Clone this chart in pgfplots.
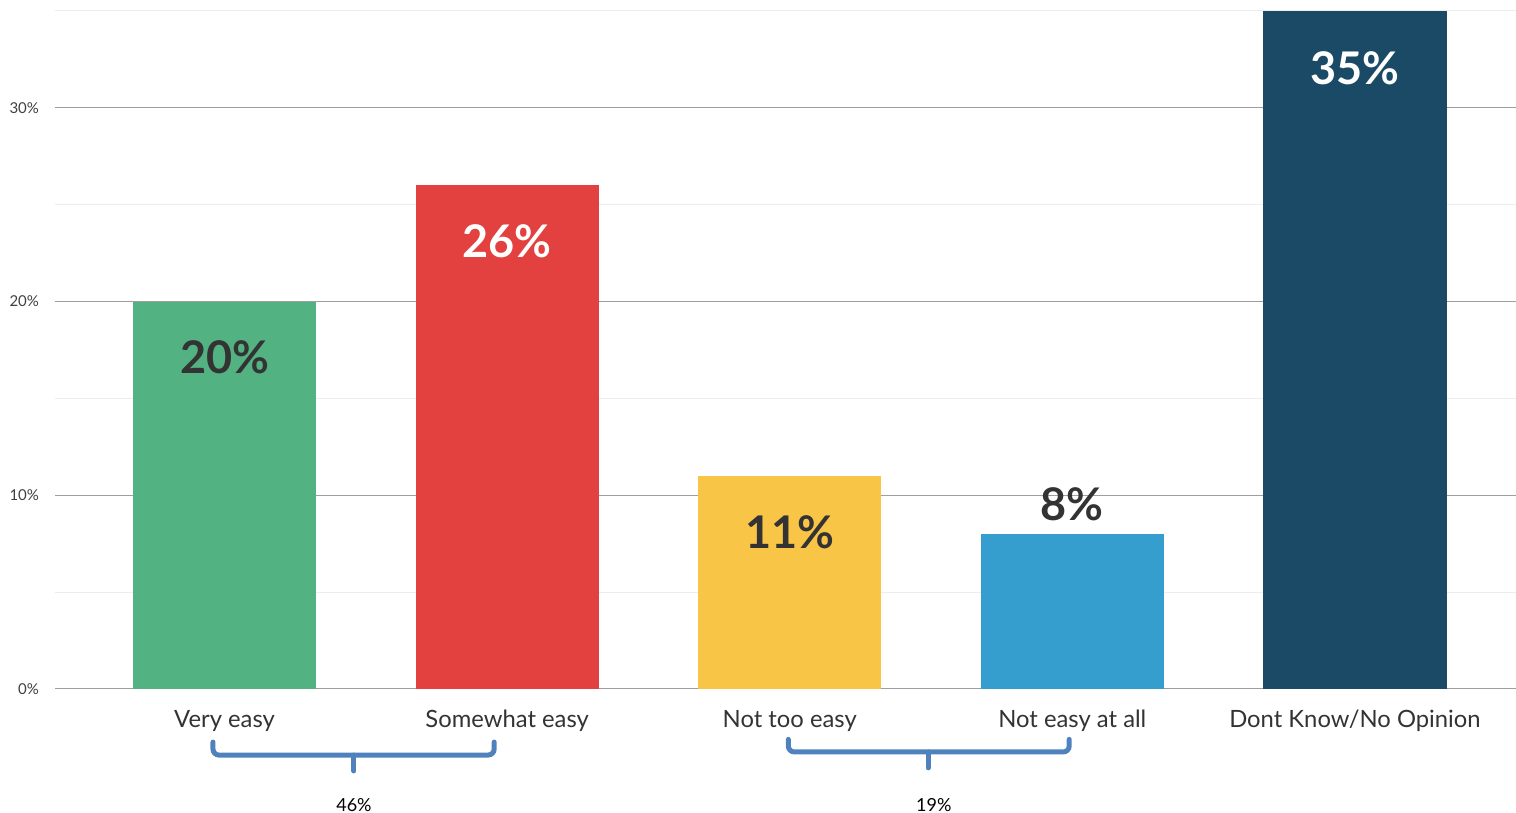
\documentclass[border=0pt]{standalone}
\usepackage{fontspec}
\setmainfont{Lato}
\usepackage{pgfplots}
\pgfplotsset{compat=1.18}
\definecolor{cgreen}{HTML}{52B281}
\definecolor{cred}{HTML}{E34040}
\definecolor{cyellow}{HTML}{F8C547}
\definecolor{cblue}{HTML}{359ECF}
\definecolor{cnavy}{HTML}{1B4A67}
\definecolor{cbrace}{HTML}{4F81BD}
\definecolor{ctext}{HTML}{333333}
\begin{document}
\begin{tikzpicture}
\path[use as bounding box] (-27.5pt,-62pt) rectangle (730.5pt,344.5pt);
\begin{axis}[
  at={(0,0)}, anchor=south west,
  scale only axis, width=730.5pt, height=339pt,
  xmin=-0.6, xmax=4.57, ymin=0, ymax=35,
  clip=false,
  axis line style={draw=none},
  tick style={draw=none},
  ytick={0,10,20,30},
  minor ytick={5,15,25,35},
  ymajorgrids, yminorgrids,
  major grid style={draw=black!38, line width=0.5pt},
  minor grid style={draw=black!7, line width=0.5pt},
  /pgf/number format/assume math mode=true,
  yticklabel={\pgfmathprintnumber{\tick}\%},
  yticklabel style={font=\fontsize{7.5}{9}\selectfont, text=black!75, xshift=-4.5pt},
  xtick={0,1,2,3,4},
  xticklabels={Very easy, Somewhat easy, Not too easy, Not easy at all, Dont Know/No Opinion},
  xticklabel style={font=\fontsize{11.9}{14}\selectfont, text=ctext, yshift=-7pt},
  every node near coord/.append style={font=\fontsize{22.5}{26}\selectfont\bfseries, anchor=center},
]
\addplot[ybar, bar width=0.648, bar shift=0pt, fill=cgreen, draw=none,
  nodes near coords={20\%}, every node near coord/.append style={text=ctext, yshift=-28pt}] coordinates {(0,20)};
\addplot[ybar, bar width=0.648, bar shift=0pt, fill=cred, draw=none,
  nodes near coords={26\%}, every node near coord/.append style={text=white, yshift=-28pt}] coordinates {(1,26)};
\addplot[ybar, bar width=0.648, bar shift=0pt, fill=cyellow, draw=none,
  nodes near coords={11\%}, every node near coord/.append style={text=ctext, yshift=-28pt}] coordinates {(2,11)};
\addplot[ybar, bar width=0.648, bar shift=0pt, fill=cblue, draw=none,
  nodes near coords={8\%}, every node near coord/.append style={text=ctext, yshift=15pt}] coordinates {(3,8)};
\addplot[ybar, bar width=0.648, bar shift=0pt, fill=cnavy, draw=none,
  nodes near coords={35\%}, every node near coord/.append style={text=white, yshift=-28.5pt}] coordinates {(4,35)};
\draw[cbrace, line width=2.5pt, rounded corners=3pt, line cap=round]
  (axis cs:-0.041,-2.74) -- (axis cs:-0.041,-3.41) -- (axis cs:0.954,-3.41) -- (axis cs:0.954,-2.74);
\draw[cbrace, line width=2.5pt, line cap=round] (axis cs:0.458,-3.41) -- (axis cs:0.458,-4.23);
\draw[cbrace, line width=2.5pt, rounded corners=3pt, line cap=round]
  (axis cs:1.995,-2.6) -- (axis cs:1.995,-3.25) -- (axis cs:2.989,-3.25) -- (axis cs:2.989,-2.6);
\draw[cbrace, line width=2.5pt, line cap=round] (axis cs:2.49,-3.25) -- (axis cs:2.49,-4.07);
\node[font=\fontsize{9}{11}\selectfont, text=black] at (axis cs:0.458,-5.99) {46\%};
\node[font=\fontsize{9}{11}\selectfont, text=black] at (axis cs:2.51,-5.99) {19\%};
\end{axis}
\end{tikzpicture}
\end{document}
